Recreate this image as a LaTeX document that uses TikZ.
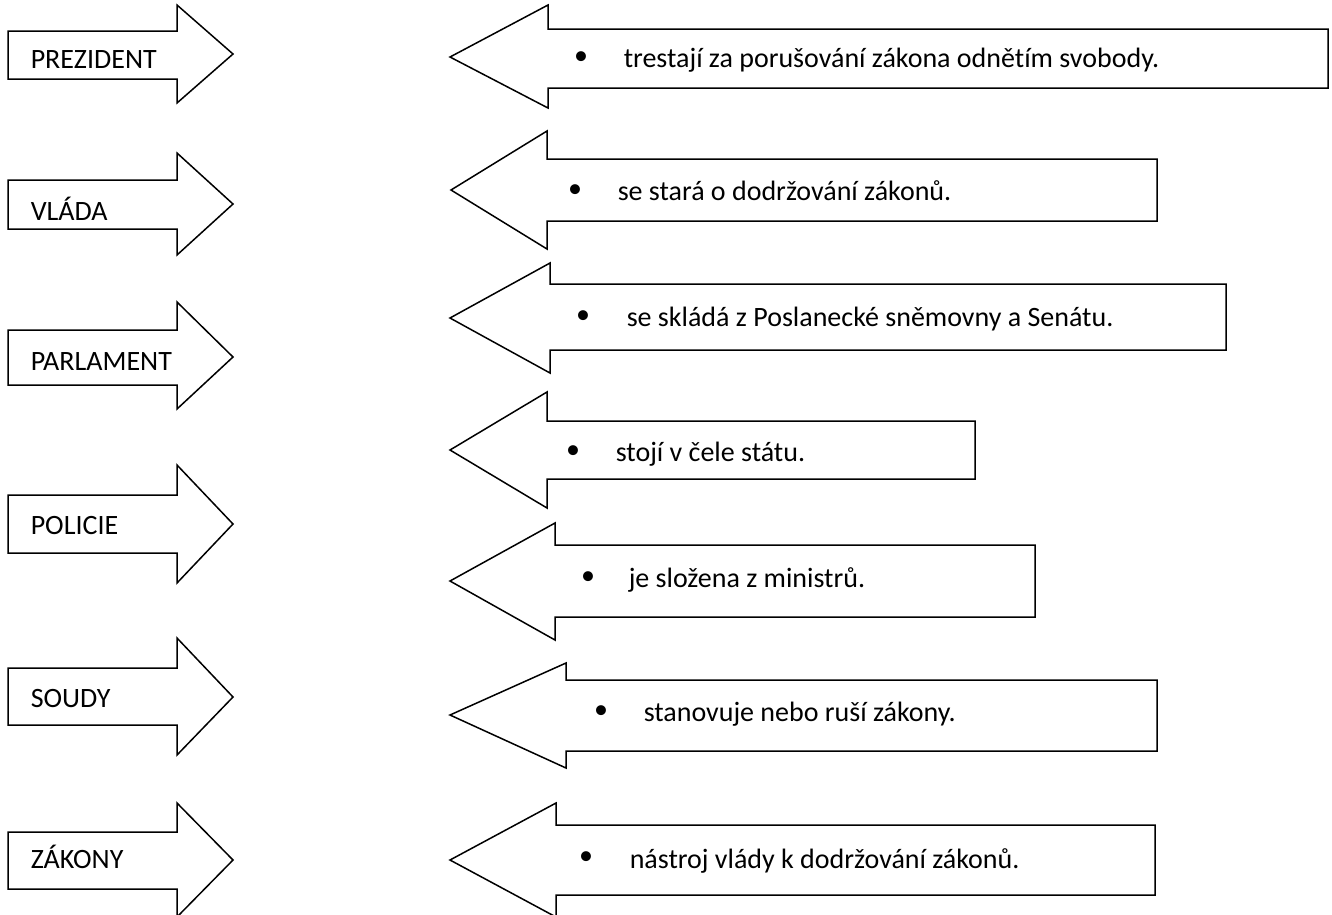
\documentclass[tikz,border=0pt]{standalone}
\usepackage{fontspec}
\setmainfont[Ligatures=NoCommon]{Carlito}
\begin{document}
\begin{tikzpicture}[x=1pt, y=-1pt, line width=1.5pt, line join=miter,
    tvar/.style={draw=black, fill=white},
    pojem/.style={anchor=base west, inner sep=0pt, font=\fontsize{28}{33}\selectfont},
    tecka/.style={anchor=center, inner sep=0pt, font=\fontsize{28}{33}\selectfont}]
    \useasboundingbox (0,0) rectangle (1332,914);

    % Left column (terms)
    \draw[tvar] (8,31) -- (177,31) -- (177,5) -- (233,54) -- (177,103) -- (177,79) -- (8,79) -- cycle;
    \node[pojem] (prezident) at (30,68) {PREZIDENT};

    \draw[tvar] (8,180) -- (177,180) -- (177,153) -- (233,204) -- (177,255) -- (177,229) -- (8,229) -- cycle;
    \node[pojem] (vlada) at (30,220) {VLÁDA};

    \draw[tvar] (8,330) -- (177,330) -- (177,302) -- (233,357) -- (177,409) -- (177,385) -- (8,385) -- cycle;
    \node[pojem] (parlament) at (30,370) {PARLAMENT};

    \draw[tvar] (8,495) -- (177,495) -- (177,465) -- (233,524) -- (177,583) -- (177,553) -- (8,553) -- cycle;
    \node[pojem] (policie) at (30,534) {POLICIE};

    \draw[tvar] (8,668) -- (177,668) -- (177,638) -- (233,697) -- (177,755) -- (177,725) -- (8,725) -- cycle;
    \node[pojem] (soudy) at (30,707) {SOUDY};

    \draw[tvar] (8,832) -- (177,832) -- (177,803) -- (233,860) -- (177,917) -- (177,889) -- (8,889) -- cycle;
    \node[pojem] (zakony) at (30,868) {ZÁKONY};

    % Right column (descriptions)
    \draw[tvar] (450,57) -- (548,5) -- (548,29) -- (1328,29) -- (1328,88) -- (548,88) -- (548,108) -- cycle;
    \node[tecka] (tecka1) at (581,58) {•};
    \node[pojem] (popis1) at (623,67) {trestají za porušování zákona odnětím svobody.};

    \draw[tvar] (451,190) -- (547,131) -- (547,159) -- (1157,159) -- (1157,221) -- (547,221) -- (547,249) -- cycle;
    \node[tecka] (tecka2) at (575,191) {•};
    \node[pojem] (popis2) at (617,200) {se stará o dodržování zákonů.};

    \draw[tvar] (450,318) -- (550,263) -- (550,284) -- (1226,284) -- (1226,350) -- (550,350) -- (550,373) -- cycle;
    \node[tecka] (tecka3) at (583,317) {•};
    \node[pojem] (popis3) at (626,326) {se skládá z Poslanecké sněmovny a Senátu.};

    \draw[tvar] (450,450) -- (547,392) -- (547,421) -- (975,421) -- (975,479) -- (547,479) -- (547,508) -- cycle;
    \node[tecka] (tecka4) at (573,452) {•};
    \node[pojem] (popis4) at (615,461) {stojí v čele státu.};

    \draw[tvar] (450,581) -- (555,523) -- (555,545) -- (1035,545) -- (1035,617) -- (555,617) -- (555,640) -- cycle;
    \node[tecka] (tecka5) at (588,578) {•};
    \node[pojem] (popis5) at (628,587) {je složena z ministrů.};

    \draw[tvar] (450,715) -- (566,663) -- (566,680) -- (1157,680) -- (1157,751) -- (566,751) -- (566,768) -- cycle;
    \node[tecka] (tecka6) at (601,712) {•};
    \node[pojem] (popis6) at (643,721) {stanovuje nebo ruší zákony.};

    \draw[tvar] (450,860) -- (556,803) -- (556,825) -- (1155,825) -- (1155,895) -- (556,895) -- (556,917) -- cycle;
    \node[tecka] (tecka7) at (586,858) {•};
    \node[pojem] (popis7) at (629,868) {nástroj vlády k dodržování zákonů.};
\end{tikzpicture}
\end{document}
